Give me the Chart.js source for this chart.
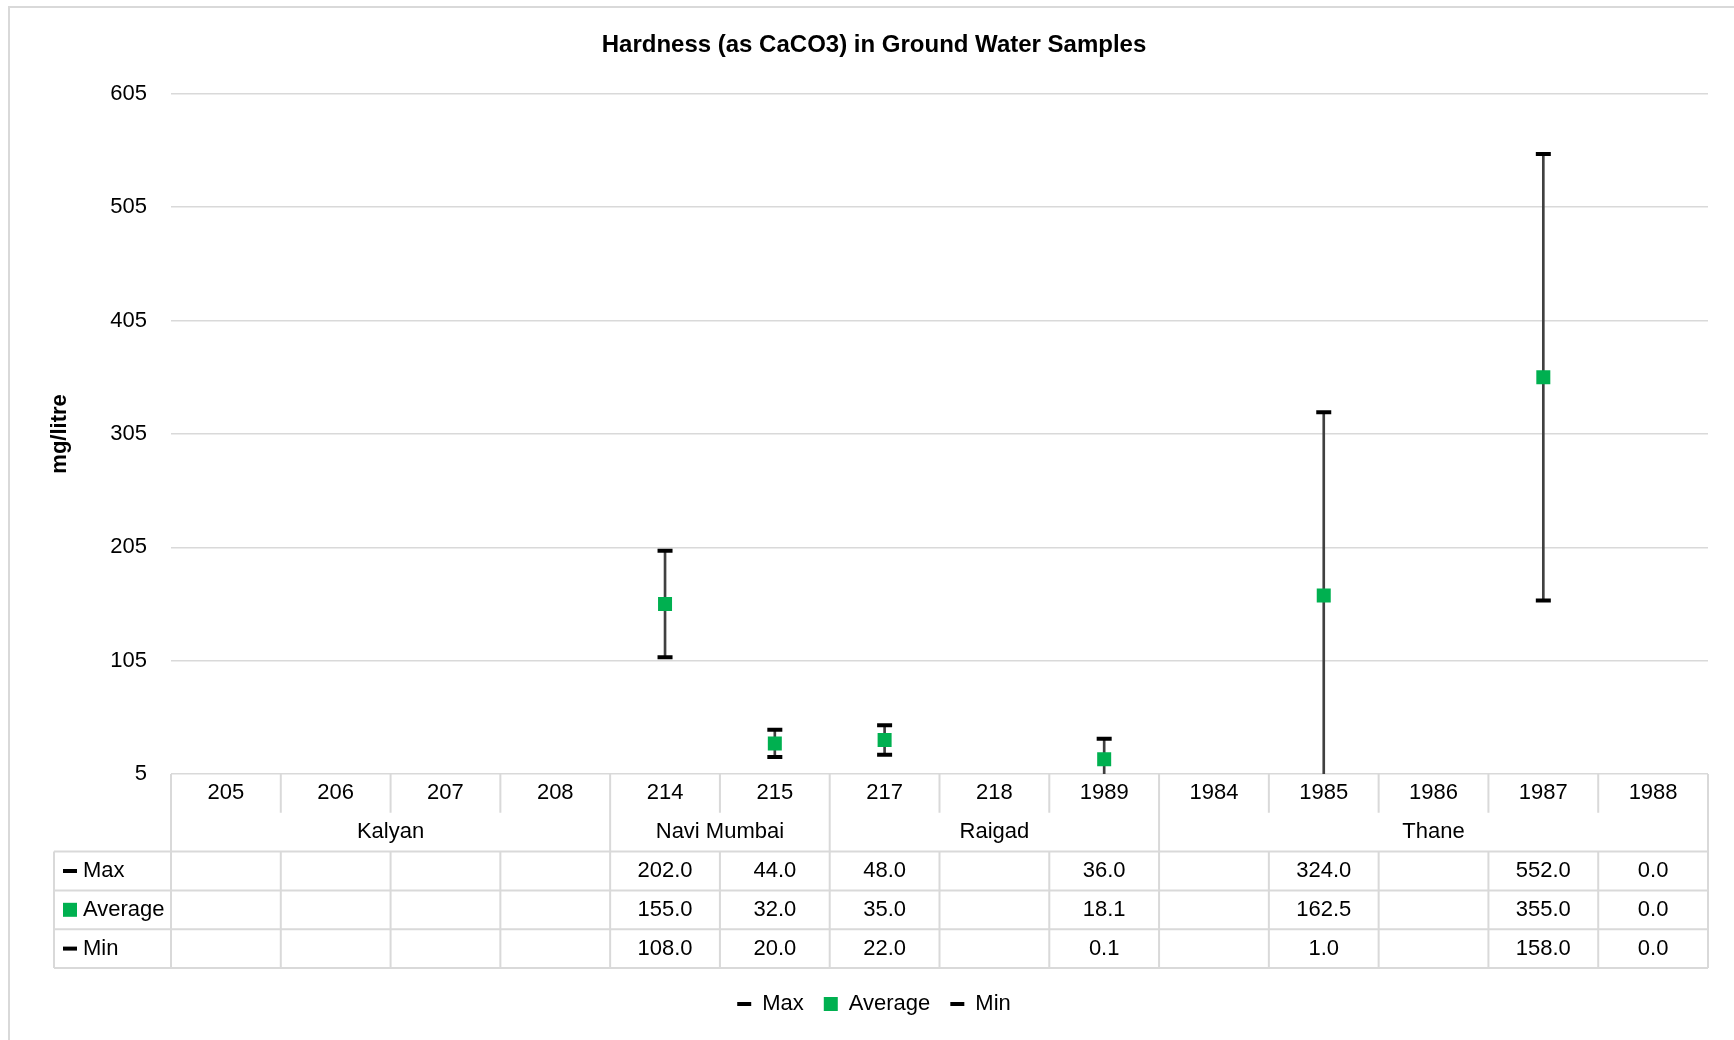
<!DOCTYPE html>
<html>
<head>
<meta charset="utf-8">
<title>Hardness (as CaCO3) in Ground Water Samples</title>
<script src="https://cdn.jsdelivr.net/npm/chart.js@4.4.1/dist/chart.umd.min.js"></script>
<style>
  html, body { margin: 0; padding: 0; background: #fff; }
  .wrap { position: relative; width: 1734px; height: 1040px; overflow: hidden; }
  .frame { position: absolute; left: 8px; top: 6px; width: 1780px; height: 1090px; border: 2px solid #d9d9d9; box-sizing: border-box; }
  canvas { position: absolute; left: 0; top: 0; }
</style>
</head>
<body>
<div class="wrap">
  <div class="frame"></div>
  <canvas id="myChart" width="1734" height="1040"></canvas>
</div>
<script>
const categories = ["205", "206", "207", "208", "214", "215", "217", "218", "1989", "1984", "1985", "1986", "1987", "1988"];
const groupNames = ["Kalyan", "Navi Mumbai", "Raigad", "Thane"];
const groupSizes = [4, 2, 3, 5];
const maxVals = [null, null, null, null, 202.0, 44.0, 48.0, null, 36.0, null, 324.0, null, 552.0, 0.0];
const avgVals = [null, null, null, null, 155.0, 32.0, 35.0, null, 18.1, null, 162.5, null, 355.0, 0.0];
const minVals = [null, null, null, null, 108.0, 20.0, 22.0, null, 0.1, null, 1.0, null, 158.0, 0.0];
const yMin = 5;
const yMax = 605;
const yStep = 100;

const FONT = "'Liberation Sans', Arial, sans-serif";
const GREEN = "#00B050";
const GRID = "#d9d9d9";

// high-low line for each station, from min to max
const ranges = minVals.map((m, i) => (m == null || maxVals[i] == null ? null : [m, maxVals[i]]));

const rowSeries = [
  { name: "Max", values: maxVals, marker: "dash" },
  { name: "Average", values: avgVals, marker: "square" },
  { name: "Min", values: minVals, marker: "dash" },
];

// draws the data table under the plot, using the x scale for the columns
const dataTable = {
  id: "dataTable",
  afterDraw(chart) {
    const { ctx, chartArea } = chart;
    const x = chart.scales.x;
    const step = x.width / categories.length;
    const top = chartArea.bottom;
    const rows = [0, 38.8, 77.6, 116.4, 155.2, 194].map((r) => top + r);
    const tableLeft = 54;
    const edge = (i) => (i === categories.length ? x.right : x.getPixelForValue(i) - step / 2);

    const groupEdges = new Set([0]);
    let acc = 0;
    groupSizes.forEach((n) => {
      acc += n;
      groupEdges.add(acc);
    });

    ctx.save();
    ctx.strokeStyle = GRID;
    ctx.lineWidth = 2;
    ctx.beginPath();
    for (let r = 2; r < rows.length; r++) {
      ctx.moveTo(tableLeft, rows[r]);
      ctx.lineTo(x.right, rows[r]);
    }
    ctx.moveTo(tableLeft, rows[2]);
    ctx.lineTo(tableLeft, rows[5]);
    for (let i = 0; i <= categories.length; i++) {
      const px = edge(i);
      if (groupEdges.has(i)) {
        ctx.moveTo(px, rows[0]);
        ctx.lineTo(px, rows[5]);
      } else {
        ctx.moveTo(px, rows[0]);
        ctx.lineTo(px, rows[1]);
        ctx.moveTo(px, rows[2]);
        ctx.lineTo(px, rows[5]);
      }
    }
    ctx.stroke();

    ctx.fillStyle = "#000";
    ctx.font = "22px " + FONT;
    ctx.textAlign = "center";
    ctx.textBaseline = "middle";

    // station numbers
    categories.forEach((c, i) => {
      ctx.fillText(c, x.getPixelForValue(i), (rows[0] + rows[1]) / 2);
    });

    // district names
    let start = 0;
    groupNames.forEach((g, k) => {
      const mid = (edge(start) + edge(start + groupSizes[k])) / 2;
      ctx.fillText(g, mid, (rows[1] + rows[2]) / 2);
      start += groupSizes[k];
    });

    // series rows
    rowSeries.forEach((s, r) => {
      const cy = (rows[r + 2] + rows[r + 3]) / 2;
      if (s.marker === "dash") {
        ctx.fillStyle = "#000";
        ctx.fillRect(63, cy - 2, 14, 4);
      } else {
        ctx.fillStyle = GREEN;
        ctx.fillRect(63, cy - 7, 14, 14);
      }
      ctx.fillStyle = "#000";
      ctx.textAlign = "left";
      ctx.fillText(s.name, 83, cy);
      ctx.textAlign = "center";
      s.values.forEach((v, i) => {
        if (v == null) return;
        ctx.fillText(v.toFixed(1), x.getPixelForValue(i), cy);
      });
    });
    ctx.restore();
  },
};

const ctx = document.getElementById("myChart");
Chart.defaults.font.family = FONT;
Chart.defaults.color = "#000";

new Chart(ctx, {
  type: "bar",
  data: {
    labels: categories,
    datasets: [
      {
        type: "line",
        label: "Max",
        data: maxVals,
        showLine: false,
        pointStyle: "line",
        pointRadius: 7.5,
        pointHoverRadius: 7.5,
        borderColor: "#000",
        backgroundColor: "#000",
        borderWidth: 4,
        pointBorderWidth: 4,
        order: 0,
        clip: 0,
      },
      {
        type: "line",
        label: "Average",
        data: avgVals,
        showLine: false,
        pointStyle: "rect",
        pointRadius: 9.9,
        pointHoverRadius: 9.9,
        borderColor: GREEN,
        backgroundColor: GREEN,
        borderWidth: 0,
        pointBorderWidth: 0,
        order: 0,
        clip: { left: 0, top: 0, right: 0, bottom: -4 },
      },
      {
        type: "line",
        label: "Min",
        data: minVals,
        showLine: false,
        pointStyle: "line",
        pointRadius: 7.5,
        pointHoverRadius: 7.5,
        borderColor: "#000",
        backgroundColor: "#000",
        borderWidth: 4,
        pointBorderWidth: 4,
        order: 0,
        clip: 0,
      },
      {
        label: "",
        data: ranges,
        backgroundColor: "#404040",
        barThickness: 2,
        order: 1,
        clip: 0,
      },
    ],
  },
  options: {
    responsive: false,
    animation: false,
    layout: {
      padding: { left: 40, right: 26, top: 0, bottom: 15 },
    },
    plugins: {
      title: {
        display: true,
        text: "Hardness (as CaCO3) in Ground Water Samples",
        color: "#000",
        font: { size: 24, weight: "bold" },
        padding: { top: 31, bottom: 34 },
      },
      legend: {
        position: "bottom",
        labels: {
          filter: (item) => item.text !== "",
          usePointStyle: true,
          pointStyleWidth: 14,
          boxHeight: 14,
          padding: 20,
          color: "#000",
          font: { size: 22 },
        },
      },
      tooltip: { enabled: false },
    },
    scales: {
      x: {
        offset: true,
        grid: { display: false },
        border: { display: false },
        ticks: { display: false },
        afterFit: (scale) => {
          scale.height = 199; // room for the data table
        },
      },
      y: {
        min: yMin,
        max: yMax,
        grid: { color: GRID, lineWidth: 1.5, drawTicks: false },
        border: { display: false },
        ticks: {
          stepSize: yStep,
          padding: 24,
          color: "#000",
          font: { size: 22 },
        },
        title: {
          display: true,
          text: "mg/litre",
          color: "#000",
          font: { size: 22, weight: "bold" },
          padding: { top: 7, bottom: 0 },
        },
        afterFit: (scale) => {
          scale.width = 131;
        },
      },
    },
  },
  plugins: [dataTable],
});
</script>
</body>
</html>
